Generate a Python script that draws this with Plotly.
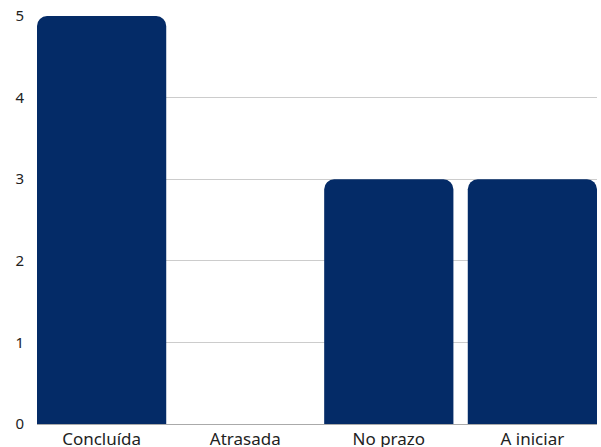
import plotly.graph_objects as go

## data
categories = ['Concluída', 'Atrasada', 'No prazo', 'A iniciar']
counts = [5, 0, 3, 3]
y_ticks = [0, 1, 2, 3, 4, 5]

params = dict(
    width = 601, height = 447,
    bar_color = '#042b67', grid_color = '#cccccc', text_color = '#222222',
    )

fig = go.Figure()
fig.add_trace(go.Bar(
    x = categories, y = counts,
    marker = dict(color = params['bar_color'], line = dict(width = 0)),
    width = 0.9,
    hoverinfo = 'x+y',
    ))

fig.update_layout(
    width = params['width'], height = params['height'],
    margin = dict(l = 37, r = 4, t = 16, b = 23),
    plot_bgcolor = 'white', paper_bgcolor = 'white',
    showlegend = False,
    barcornerradius = 10,
    font = dict(family = 'Noto Sans, sans-serif', size = 15, color = params['text_color']),
    xaxis = dict(
        range = [-0.45, 3.45], showgrid = False, zeroline = False,
        showline = False, ticks = '', tickfont = dict(size = 17),
        automargin = False, ticklabelstandoff = 3,
        ),
    yaxis = dict(
        range = [0, 5], tickvals = y_ticks, showgrid = True,
        gridcolor = params['grid_color'], gridwidth = 1,
        zeroline = True, zerolinecolor = '#aaaaaa', zerolinewidth = 1,
        ticks = '', ticklabelstandoff = 12, automargin = False,
        ),
    )

## page body has a default 8px margin; drop it so the figure sits at the corner
fig.write_html(
    'out.html', config = dict(displayModeBar = False),
    post_script = "document.body.style.margin = '0';")
